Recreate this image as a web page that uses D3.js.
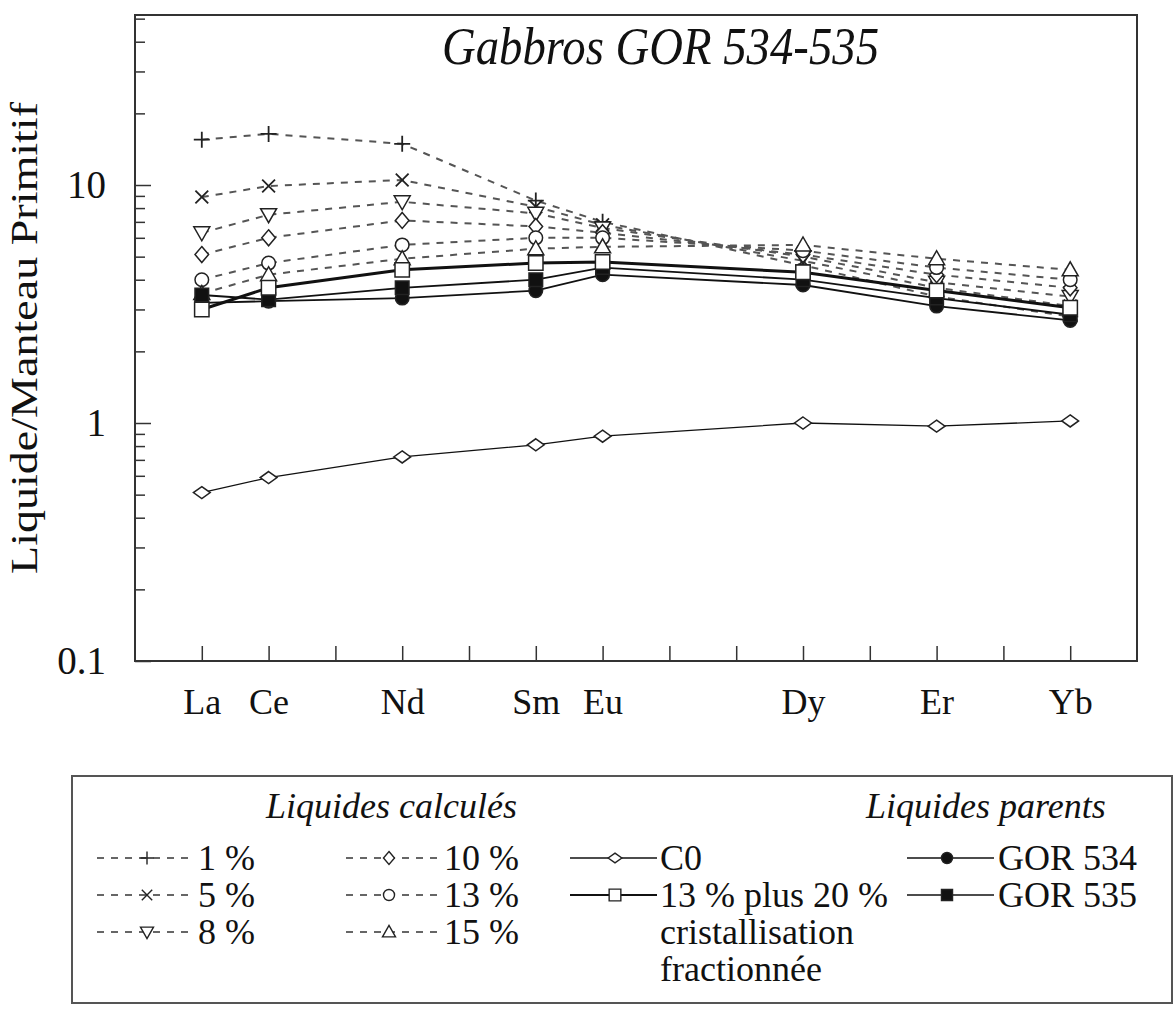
<!DOCTYPE html>
<html>
<head>
<meta charset="utf-8">
<script src="https://cdn.jsdelivr.net/npm/d3@7"></script>
<style>
  body { margin: 0; background: #fff; }
  svg { display: block; }
  text { font-family: "Liberation Serif", "Times New Roman", serif; fill: #111; }
</style>
</head>
<body>
<svg id="chart" width="1175" height="1009"></svg>
<script>
// ---------- data ----------
const elements      = ["La", "Ce", "Nd", "Sm", "Eu", "Dy", "Er", "Yb"];
const atomicNumbers = [57, 58, 60, 62, 63, 66, 68, 70];
const xTickNumbers  = [57, 58, 59, 60, 61, 62, 63, 64, 65, 66, 67, 68, 69, 70];

const melt1   = [15.5, 16.4, 14.9, 8.6, 7.0, 4.6, 3.4, 2.8];
const melt5   = [8.9, 9.9, 10.5, 8.1, 6.8, 4.8, 3.7, 3.1];
const melt8   = [6.3, 7.5, 8.5, 7.6, 6.6, 5.0, 3.9, 3.4];
const melt10  = [5.1, 6.0, 7.1, 6.7, 6.3, 5.1, 4.2, 3.7];
const melt13  = [4.0, 4.7, 5.6, 6.0, 6.0, 5.3, 4.5, 4.0];
const melt15  = [3.5, 4.2, 4.9, 5.4, 5.5, 5.6, 4.9, 4.4];
const c0      = [0.51, 0.59, 0.72, 0.81, 0.88, 1.0, 0.97, 1.02];
const fc13p20 = [3.0, 3.7, 4.4, 4.7, 4.75, 4.3, 3.6, 3.05];
const gor534  = [3.2, 3.25, 3.35, 3.6, 4.2, 3.8, 3.1, 2.7];
const gor535  = [3.45, 3.3, 3.7, 4.0, 4.5, 4.0, 3.35, 2.85];

const yMajorTicks = [0.1, 1, 10];
const yMajorLabels = ["0.1", "1", "10"];
const yMinorTicks = [0.2, 0.3, 0.4, 0.5, 0.6, 0.7, 0.8, 0.9,
                     2, 3, 4, 5, 6, 7, 8, 9, 20, 30, 40, 50];

const seriesLabels = ["1 %", "5 %", "8 %", "10 %", "13 %", "15 %", "C0",
                      "13 % plus 20 %", "GOR 534", "GOR 535"];
const extraLabelLines = ["cristallisation", "fractionnée"];
const titleText = "Gabbros GOR 534-535";
const yTitle = "Liquide/Manteau Primitif";
const legendTitleLeft = "Liquides calculés";
const legendTitleRight = "Liquides parents";

// ---------- styles ----------
const seriesValues = [melt1, melt5, melt8, melt10, melt13, melt15, c0, fc13p20, gor534, gor535];
const seriesStyle = [
  { shape: "plus",    dashed: true,  fill: "none",  width: 2 },
  { shape: "times",   dashed: true,  fill: "none",  width: 2 },
  { shape: "triDown", dashed: true,  fill: "#fff",  width: 2 },
  { shape: "diamond", dashed: true,  fill: "#fff",  width: 2 },
  { shape: "circle",  dashed: true,  fill: "#fff",  width: 2 },
  { shape: "triUp",   dashed: true,  fill: "#fff",  width: 2 },
  { shape: "diamondS",dashed: false, fill: "#fff",  width: 1.3 },
  { shape: "square",  dashed: false, fill: "#fff",  width: 3 },
  { shape: "circle",  dashed: false, fill: "#111",  width: 1.8 },
  { shape: "squareF", dashed: false, fill: "#111",  width: 1.8 }
];

const shapes = {
  plus:    s => `M${-s},0H${s}M0,${-s}V${s}`,
  times:   s => `M${-s*0.8},${-s*0.8}L${s*0.8},${s*0.8}M${-s*0.8},${s*0.8}L${s*0.8},${-s*0.8}`,
  triDown: s => `M${-s},${-s*0.75}H${s}L0,${s}Z`,
  triUp:   s => `M${-s},${s*0.75}H${s}L0,${-s}Z`,
  diamond: s => `M0,${-s}L${s*0.85},0L0,${s}L${-s*0.85},0Z`,
  diamondS:s => `M0,${-s*0.75}L${s*1.05},0L0,${s*0.75}L${-s*1.05},0Z`,
  circle:  s => { const r = s*0.85; return `M${r},0A${r},${r},0,1,1,${-r},0A${r},${r},0,1,1,${r},0Z`; },
  square:  s => `M${-s*0.9},${-s*0.9}H${s*0.9}V${s*0.9}H${-s*0.9}Z`,
  squareF: s => `M${-s*0.85},${-s*0.85}H${s*0.85}V${s*0.85}H${-s*0.85}Z`
};

const svg = d3.select("#chart");
const plotLeft = 135, plotRight = 1137, plotTop = 15, plotBottom = 661;

const x = d3.scaleLinear().domain([56, 71]).range([plotLeft, plotRight]);
const y = d3.scaleLog().domain([0.1, 51.8]).range([plotBottom, plotTop]);

// ---------- frame ----------
svg.append("rect")
  .attr("x", plotLeft).attr("y", plotTop)
  .attr("width", plotRight - plotLeft).attr("height", plotBottom - plotTop)
  .attr("fill", "none").attr("stroke", "#333").attr("stroke-width", 2);

// ---------- axes ----------
const yMajor = d3.axisLeft(y).tickValues(yMajorTicks)
  .tickFormat((d, i) => yMajorLabels[i]).tickSizeInner(-16).tickSizeOuter(0).tickPadding(29);
const yMinor = d3.axisLeft(y).tickValues(yMinorTicks)
  .tickFormat("").tickSizeInner(-10).tickSizeOuter(0);

const gyMinor = svg.append("g").attr("transform", `translate(${plotLeft},0)`).call(yMinor);
const gyMajor = svg.append("g").attr("transform", `translate(${plotLeft},0)`).call(yMajor);
[gyMinor, gyMajor].forEach(g => {
  g.select(".domain").remove();
  g.selectAll("line").attr("stroke", "#333").attr("stroke-width", 1.5);
});
gyMajor.selectAll("text")
  .style("font-family", '"Liberation Serif", serif')
  .style("font-size", "39px").attr("fill", "#111");

const elemByZ = new Map(atomicNumbers.map((z, i) => [z, elements[i]]));
const xAxis = d3.axisBottom(x).tickValues(xTickNumbers)
  .tickFormat(d => elemByZ.get(d) || "").tickSizeInner(-15).tickSizeOuter(0).tickPadding(27);
const gx = svg.append("g").attr("transform", `translate(0,${plotBottom})`).call(xAxis);
gx.select(".domain").remove();
gx.selectAll("line").attr("stroke", "#333").attr("stroke-width", 1.5);
gx.selectAll("text")
  .style("font-family", '"Liberation Serif", serif')
  .style("font-size", "36px").attr("fill", "#111");

// ---------- title & axis label ----------
svg.append("text")
  .attr("x", 442).attr("y", 64)
  .attr("font-size", 52).attr("font-style", "italic")
  .attr("textLength", 437).attr("lengthAdjust", "spacingAndGlyphs")
  .text(titleText);

svg.append("text")
  .attr("transform", "translate(37,338) rotate(-90)")
  .attr("text-anchor", "middle")
  .attr("font-size", 38)
  .attr("textLength", 472).attr("lengthAdjust", "spacingAndGlyphs")
  .text(yTitle);

// ---------- series ----------
const line = d3.line()
  .x((d, i) => x(atomicNumbers[i]))
  .y(d => y(d));

const order = [0, 1, 2, 3, 4, 5, 6, 8, 9, 7];
const gLines = svg.append("g");
const gMarks = svg.append("g");

order.forEach(k => {
  const st = seriesStyle[k];
  gLines.append("path")
    .datum(seriesValues[k])
    .attr("d", line)
    .attr("fill", "none")
    .attr("stroke", st.dashed ? "#555" : "#111")
    .attr("stroke-width", st.width)
    .attr("stroke-dasharray", st.dashed ? "7,7" : null);
});

order.forEach(k => {
  const st = seriesStyle[k];
  gMarks.append("g").selectAll("path")
    .data(seriesValues[k])
    .join("path")
    .attr("transform", (d, i) => `translate(${x(atomicNumbers[i])},${y(d)})`)
    .attr("d", shapes[st.shape](8))
    .attr("fill", st.fill)
    .attr("stroke", "#222")
    .attr("stroke-width", st.shape === "plus" || st.shape === "times" ? 1.8 : 1.5);
});

// ---------- legend ----------
const lg = svg.append("g");
lg.append("rect")
  .attr("x", 72).attr("y", 776).attr("width", 1100).attr("height", 227)
  .attr("fill", "none").attr("stroke", "#555").attr("stroke-width", 2);

lg.append("text").attr("x", 266).attr("y", 818)
  .attr("font-size", 36).attr("font-style", "italic").text(legendTitleLeft);
lg.append("text").attr("x", 866).attr("y", 818)
  .attr("font-size", 36).attr("font-style", "italic").text(legendTitleRight);

const legendCols = [
  { x0: 97,  x1: 195, mx: 147, tx: 198, items: [0, 1, 2] },
  { x0: 346, x1: 437, mx: 389, tx: 444, items: [3, 4, 5] },
  { x0: 570, x1: 657, mx: 615, tx: 660, items: [6, 7] },
  { x0: 907, x1: 994, mx: 947, tx: 998, items: [8, 9] }
];
const rowY = [858, 895, 932, 969];

legendCols.forEach(col => {
  col.items.forEach((k, r) => {
    const st = seriesStyle[k];
    const yy = rowY[r];
    lg.append("line")
      .attr("x1", col.x0).attr("x2", col.x1).attr("y1", yy).attr("y2", yy)
      .attr("stroke", st.dashed ? "#666" : "#111")
      .attr("stroke-width", st.dashed ? 1.8 : (k === 7 ? 2.2 : 1.5))
      .attr("stroke-dasharray", st.dashed ? "7,7" : null);
    lg.append("path")
      .attr("transform", `translate(${col.mx},${yy})`)
      .attr("d", shapes[st.shape](6.5))
      .attr("fill", st.fill).attr("stroke", "#222").attr("stroke-width", 1.4);
    lg.append("text").attr("x", col.tx).attr("y", yy + 12)
      .attr("font-size", 36).text(seriesLabels[k]);
  });
});
extraLabelLines.forEach((t, i) => {
  lg.append("text").attr("x", 660).attr("y", rowY[2 + i] + 12)
    .attr("font-size", 36).text(t);
});
</script>
</body>
</html>
